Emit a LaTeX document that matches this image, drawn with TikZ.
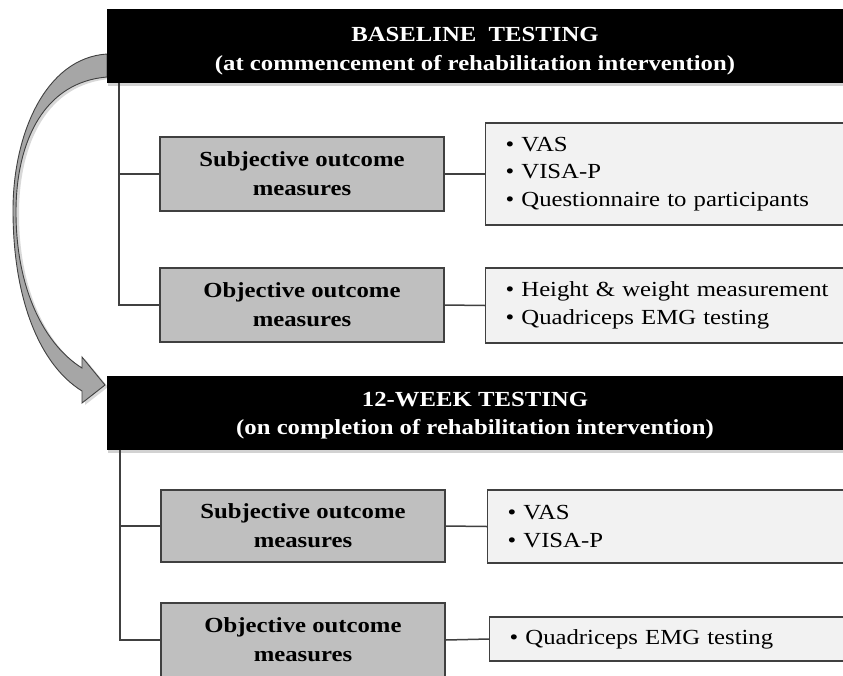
\documentclass[tikz,border=0pt]{standalone}
\usepackage{fontspec}
\setmainfont[FakeStretch=1.15]{Liberation Serif}
\usetikzlibrary{shadows}

\definecolor{edgegray}{RGB}{64,64,64}
\definecolor{midgray}{RGB}{191,191,191}
\definecolor{palegray}{RGB}{242,242,242}
\definecolor{arrowgray}{RGB}{166,166,166}

\tikzset{
  header/.style={fill=black, draw=none, inner sep=0pt,
    minimum width=736pt, minimum height=74pt,
    drop shadow={shadow xshift=1pt, shadow yshift=-3pt, opacity=0.35}},
  headtext/.style={text=white, font=\bfseries\fontsize{21.5}{28.5}\selectfont,
    align=center, inner sep=0pt},
  measure/.style={fill=midgray, draw=edgegray, line width=1.2pt,
    font=\bfseries\fontsize{21.5}{29}\selectfont, align=center,
    minimum width=284pt, inner sep=0pt},
  itemsbox/.style={fill=palegray, draw=edgegray, line width=1.2pt,
    font=\fontsize{21.5}{27.5}\selectfont, align=left, text width=323pt,
    inner xsep=20pt, inner ysep=0pt, anchor=west},
  conn/.style={draw=edgegray, line width=1.5pt},
  bigarrow/.style={fill=arrowgray, draw=edgegray, line width=0.9pt,
    drop shadow={shadow xshift=3pt, shadow yshift=-2pt, opacity=0.3}},
}

\begin{document}
\begin{tikzpicture}[x=1pt,y=-1pt]
  \clip (0,0) rectangle (843,675);
  \fill[white] (0,0) rectangle (843,675);

  % curved arrow from the baseline stage to the 12-week stage
  \path[bigarrow] (107,54)
    .. controls (45,58) and (13,135) .. (13,210)
    .. controls (13,300) and (40,365) .. (82,391)
    -- (82,403) -- (105,385) -- (82,357) -- (82,368)
    .. controls (45,345) and (16,290) .. (16,212)
    .. controls (16,140) and (45,82) .. (107,77) -- cycle;

  % stage headers
  \node[header] (h1) at (475,46) {};
  \node[headtext] (h1t) at ([yshift=-5pt]h1.center)
    {BASELINE\ \ TESTING\\(at commencement of rehabilitation intervention)};
  \node[header] (h2) at (475,412.5) {};
  \node[headtext] (h2t) at ([yshift=-3pt]h2.center)
    {12-WEEK TESTING\\(on completion of rehabilitation intervention)};

  % outcome measure categories
  \node[measure, minimum height=74pt] (s1) at (302,174) {Subjective outcome\\measures};
  \node[measure, minimum height=74pt] (o1) at (302,305) {Objective outcome\\measures};
  \node[measure, minimum height=72pt] (s2) at (303,526) {Subjective outcome\\measures};
  \node[measure, minimum height=74pt] (o2) at (303,640) {Objective outcome\\measures};

  % lists of measures
  \node[itemsbox, minimum height=102pt] (r1) at (485,174)
    {\textbullet\ VAS\\\textbullet\ VISA-P\\\textbullet\ Questionnaire to participants};
  \node[itemsbox, minimum height=75pt] (r2) at (485,305.5)
    {\textbullet\ Height \& weight measurement\\\textbullet\ Quadriceps EMG testing};
  \node[itemsbox, minimum height=73pt] (r3) at (487,526.5)
    {\textbullet\ VAS\\\textbullet\ VISA-P};
  \node[itemsbox, minimum height=44pt] (r4) at (489,639)
    {\textbullet\ Quadriceps EMG testing};

  % tree connectors
  \coordinate (t1) at ([xshift=12pt]h1.south west);
  \coordinate (t2) at ([xshift=13pt]h2.south west);
  \draw[conn] (t1) |- (s1.west);
  \draw[conn] (t1) |- (o1.west);
  \draw[conn] (t2) |- (s2.west);
  \draw[conn] (t2) |- (o2.west);
  \draw[conn] (s1.east) -- (r1.west);
  \draw[conn] (o1.east) -- (r2.west);
  \draw[conn] (s2.east) -- (r3.west);
  \draw[conn] (o2.east) -- (r4.west);
\end{tikzpicture}
\end{document}
